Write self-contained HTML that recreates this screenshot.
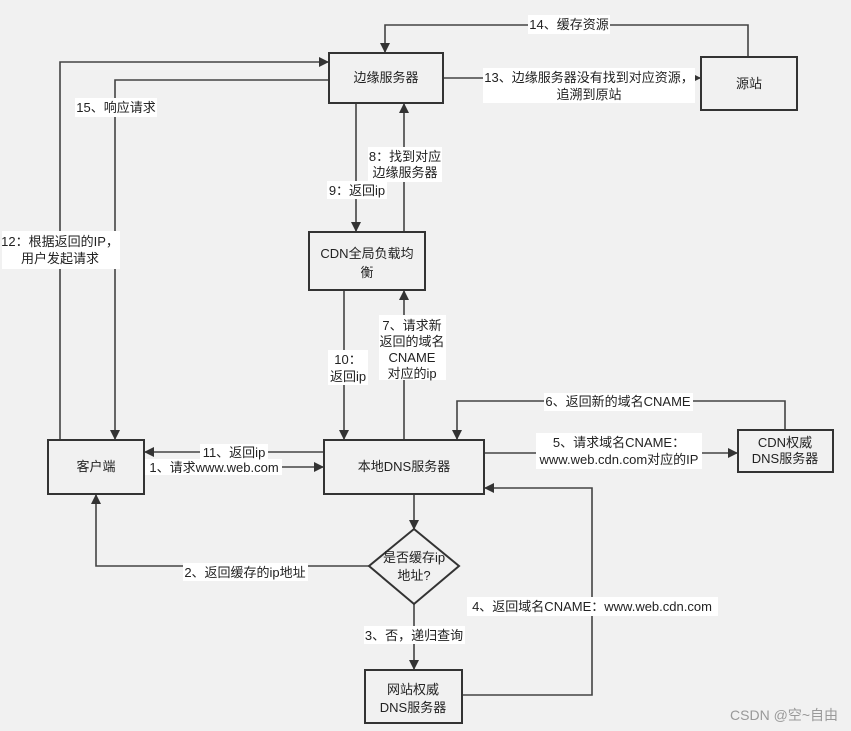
<!DOCTYPE html>
<html><head><meta charset="utf-8"><style>
html,body{margin:0;padding:0;background:#f1f1f1;}
svg{display:block;font-family:"Liberation Sans","Noto Sans CJK SC",sans-serif;}
</style></head><body>
<svg width="851" height="731" viewBox="0 0 851 731" xmlns="http://www.w3.org/2000/svg">
<defs><marker id="a" markerWidth="10" markerHeight="10" refX="9" refY="5" orient="auto" markerUnits="userSpaceOnUse"><path d="M0,0 L10,5 L0,10 z" fill="#333"/></marker></defs>
<rect width="851" height="731" fill="#f1f1f1"/>
<g fill="none" stroke="#444" stroke-width="1.6">
<polyline points="748,57 748,25 385,25 385,52" marker-end="url(#a)"/>
<polyline points="60,440 60,62 328,62" marker-end="url(#a)"/>
<polyline points="329,80 115,80 115,439" marker-end="url(#a)"/>
<polyline points="443,78 700,78" marker-end="url(#a)"/>
<polyline points="356,103 356,231" marker-end="url(#a)"/>
<polyline points="404,232 404,104" marker-end="url(#a)"/>
<polyline points="344,290 344,439" marker-end="url(#a)"/>
<polyline points="404,440 404,291" marker-end="url(#a)"/>
<polyline points="785,430 785,401 457,401 457,439" marker-end="url(#a)"/>
<polyline points="484,453 737,453" marker-end="url(#a)"/>
<polyline points="324,452 145,452" marker-end="url(#a)"/>
<polyline points="144,467 323,467" marker-end="url(#a)"/>
<polyline points="414,494 414,529" marker-end="url(#a)"/>
<polyline points="369,566 96,566 96,495" marker-end="url(#a)"/>
<polyline points="414,604 414,669" marker-end="url(#a)"/>
<polyline points="462,695 592,695 592,488 485,488" marker-end="url(#a)"/>
</g>
<g fill="#f1f1f1" stroke="#333" stroke-width="2">
<rect x="329" y="53" width="114" height="50"/>
<rect x="701" y="57" width="96" height="53"/>
<rect x="309" y="232" width="116" height="58"/>
<rect x="48" y="440" width="96" height="54"/>
<rect x="324" y="440" width="160" height="54"/>
<rect x="738" y="430" width="95" height="42"/>
<polygon points="414,529 459,566 414,604 369,566"/>
<rect x="365" y="670" width="97" height="53"/>
</g>
<g font-size="13" fill="#222" text-anchor="middle">
<text x="386" y="82">边缘服务器</text>
<text x="749" y="88">源站</text>
<text x="367" y="258">CDN全局负载均</text><text x="367" y="277">衡</text>
<text x="96" y="471">客户端</text>
<text x="404" y="471">本地DNS服务器</text>
<text x="785" y="447">CDN权威</text><text x="785" y="463">DNS服务器</text>
<text x="414" y="562">是否缓存ip</text><text x="414" y="580">地址?</text>
<text x="413" y="694">网站权威</text><text x="413" y="712">DNS服务器</text>
</g>
<g fill="#fff">
<rect x="528" y="15" width="82" height="19"/>
<rect x="75" y="98" width="82" height="19"/>
<rect x="2" y="231" width="118" height="38"/>
<rect x="483" y="68" width="212" height="35"/>
<rect x="368" y="147" width="74" height="35"/>
<rect x="327" y="181" width="60" height="18"/>
<rect x="328" y="350" width="40" height="35"/>
<rect x="379" y="315" width="67" height="65"/>
<rect x="544" y="393" width="149" height="18"/>
<rect x="536" y="433" width="166" height="36"/>
<rect x="200" y="444" width="68" height="16"/>
<rect x="145" y="459" width="137" height="16"/>
<rect x="183" y="563" width="125" height="18"/>
<rect x="467" y="597" width="251" height="19"/>
<rect x="364" y="626" width="101" height="18"/>
</g>
<g font-size="13" fill="#222" text-anchor="middle">
<text x="569" y="29">14、缓存资源</text>
<text x="116" y="112">15、响应请求</text>
<text x="60" y="246">12：根据返回的IP，</text><text x="60" y="263">用户发起请求</text>
<text x="589" y="82">13、边缘服务器没有找到对应资源，</text><text x="589" y="99">追溯到原站</text>
<text x="405" y="161">8：找到对应</text><text x="405" y="177">边缘服务器</text>
<text x="357" y="195">9：返回ip</text>
<text x="348" y="364">10：</text><text x="348" y="381">返回ip</text>
<text x="412" y="330">7、请求新</text><text x="412" y="346">返回的域名</text><text x="412" y="362">CNAME</text><text x="412" y="378">对应的ip</text>
<text x="618" y="406">6、返回新的域名CNAME</text>
<text x="619" y="447">5、请求域名CNAME：</text><text x="619" y="464">www.web.cdn.com对应的IP</text>
<text x="234" y="457">11、返回ip</text>
<text x="214" y="472">1、请求www.web.com</text>
<text x="245" y="577">2、返回缓存的ip地址</text>
<text x="592" y="611">4、返回域名CNAME：www.web.cdn.com</text>
<text x="414" y="640">3、否，递归查询</text>
</g>
<text x="838" y="720" font-size="14" fill="#999" text-anchor="end" font-family="Liberation Sans,Noto Sans CJK SC,sans-serif">CSDN @空~自由</text>
</svg>
</body></html>
